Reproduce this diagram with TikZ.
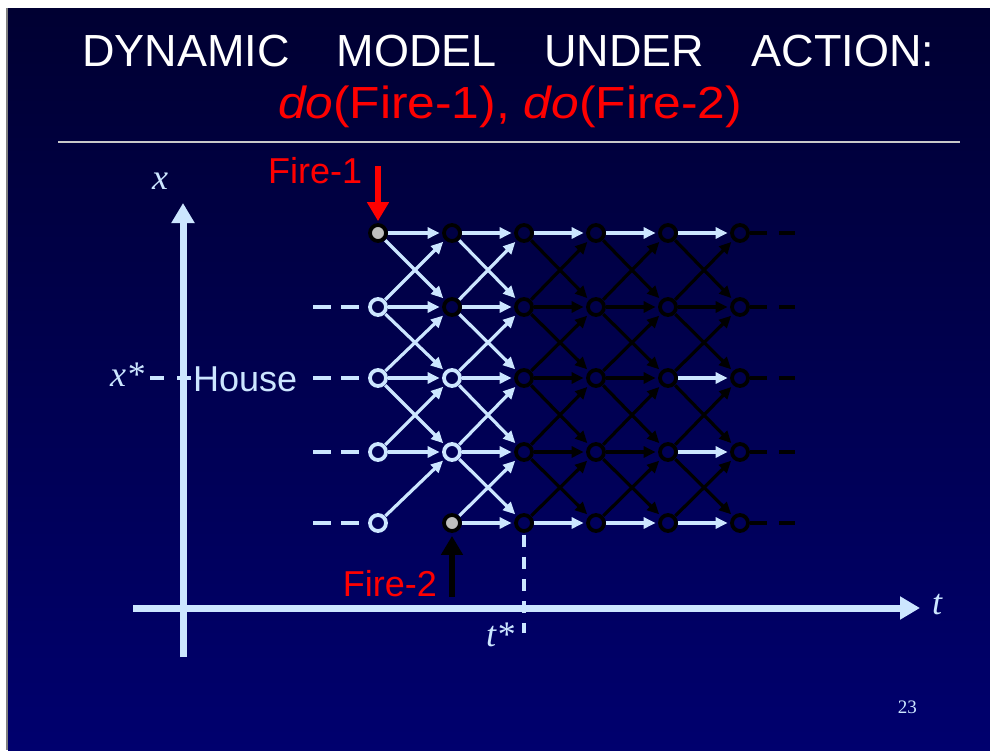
\documentclass[tikz,border=0pt]{standalone}
\usepackage{fontspec}
\setmainfont{Liberation Serif}
\setsansfont{Liberation Sans}
\usepackage{graphicx}
\usetikzlibrary{arrows.meta}
\definecolor{lb}{RGB}{204,230,255}
\definecolor{bgtop}{RGB}{0,0,50}
\definecolor{bgbot}{RGB}{0,0,110}
\definecolor{rulegray}{RGB}{200,200,200}
\definecolor{firegray}{RGB}{190,190,190}
\begin{document}
\begin{tikzpicture}[x=1pt,y=-1pt,
  nd/.style={circle,minimum size=16pt,inner sep=0pt,line width=3.8pt},
  lbn/.style={nd,draw=lb},
  bkn/.style={nd,draw=black},
  gyn/.style={nd,draw=black,fill=firegray},
  arr/.style={line width=3.2pt,-{Triangle[length=12pt,width=11pt]},shorten >=2.5pt,shorten <=0.5pt},
  lbarrow/.style={arr,draw=lb},
  bkarrow/.style={arr,draw=black},
  lbdash/.style={lb,line width=3.5pt,dash pattern=on 18pt off 10pt},
  bkdash/.style={black,line width=3.5pt,dash pattern=on 17pt off 12pt},
  axisline/.style={lb,line width=7pt,-{Triangle[length=20pt,width=22pt]}},
  lbl/.style={inner sep=0pt,anchor=base west},
  sanslbl/.style={lbl,font=\sffamily\fontsize{36}{40}\selectfont},
  mathlbl/.style={lbl,text=lb,font=\itshape\fontsize{36}{40}\selectfont}
]
\useasboundingbox (0,0) rectangle (990,750);
\fill[white] (0,0) rectangle (990,750);
\shade[top color=bgtop,bottom color=bgbot] (8,8) rectangle (990,750);
\draw[gray,line width=1.5pt] (7,8) -- (7,750);

% title
\node[lbl,text=white,font=\sffamily\fontsize{45}{48}\selectfont] (title) at (82,66)
  {\makebox[852pt][s]{DYNAMIC MODEL UNDER ACTION:}};
\node[inner sep=0pt,anchor=base,text=red,font=\sffamily\fontsize{45}{50}\selectfont] (sub) at (510,118)
  {\resizebox{464pt}{\height}{\textit{do}(Fire-1), \textit{do}(Fire-2)}};
\coordinate (rl) at (58,142);
\coordinate (rr) at (960,142);
\draw[rulegray,line width=2pt] (rl) -- (rr);

% axes
\coordinate (vb) at (183,657);
\coordinate (vt) at (183,203);
\coordinate (hl) at (133,608);
\coordinate (hr) at (920,608);
\draw[axisline] (vb) -- (vt);
\draw[axisline] (hl) -- (hr);
\node[mathlbl] (xl) at (152,189) {x};
\node[mathlbl] (tl) at (932,614) {t};
\node[mathlbl] (ts) at (486,646) {t*};
\node[mathlbl] (xs) at (110,386) {x*};
\node[inner sep=0pt,anchor=base east,text=lb,font=\fontsize{19}{22}\selectfont] (pg) at (917,713) {23};

% grid nodes
\node[gyn] (n00) at (378,233) {};
\node[lbn] (n01) at (378,307) {};
\node[lbn] (n02) at (378,378) {};
\node[lbn] (n03) at (378,452) {};
\node[lbn] (n04) at (378,523) {};
\node[bkn] (n10) at (452,233) {};
\node[bkn] (n11) at (452,307) {};
\node[lbn] (n12) at (452,378) {};
\node[lbn] (n13) at (452,452) {};
\node[gyn] (n14) at (452,523) {};
\foreach \c/\x in {2/524,3/596,4/668,5/740}
  \foreach \r/\y in {0/233,1/307,2/378,3/452,4/523}
    \node[bkn] (n\c\r) at (\x,\y) {};

% column 0 -> 1
\foreach \a/\b in {00/10,00/11,01/10,01/11,01/12,02/11,02/12,02/13,03/12,03/13,04/13}
  \draw[lbarrow] (n\a) -- (n\b);
% column 1 -> 2
\foreach \a/\b in {10/20,10/21,11/20,11/21,11/22,12/21,12/22,12/23,13/22,13/23,13/24,14/23,14/24}
  \draw[lbarrow] (n\a) -- (n\b);
% diagonals, columns 2..5
\foreach \c/\d in {2/3,3/4,4/5}{
  \foreach \r/\s in {0/1,1/2,2/3,3/4}{
    \draw[bkarrow] (n\c\r) -- (n\d\s);
    \draw[bkarrow] (n\c\s) -- (n\d\r);
  }
}
% horizontals, columns 2..5
\foreach \a/\b in {20/30,24/34,30/40,34/44,40/50,42/52,43/53,44/54}
  \draw[lbarrow] (n\a) -- (n\b);
\foreach \a/\b in {21/31,22/32,23/33,31/41,32/42,33/43,41/51}
  \draw[bkarrow] (n\a) -- (n\b);

% dashes left and right
\foreach \r/\y in {1/307,2/378,3/452,4/523}{
  \coordinate (dl\r) at (313,\y);
  \draw[lbdash,shorten >=9pt] (dl\r) -- (n0\r);
}
\foreach \r/\y in {0/233,1/307,2/378,3/452,4/523}{
  \coordinate (dr\r) at (795,\y);
  \draw[bkdash] (n5\r) -- (dr\r);
}
\coordinate (xd0) at (150,378);
\coordinate (xd1) at (191,378);
\draw[lb,line width=3.5pt,dash pattern=on 14pt off 13pt] (xd0) -- (xd1);
\node[sanslbl,text=lb] (house) at (193,391) {House};

% t* dashed line
\coordinate (tsb) at (524,633);
\draw[lb,line width=3.5pt,dash pattern=on 12pt off 10pt,shorten <=2pt] (n24) -- (tsb);

% interventions
\node[sanslbl,text=red] (fire1) at (268,183) {Fire-1};
\coordinate (f1a) at (378,166);
\draw[red,line width=6.5pt,-{Triangle[length=19pt,width=21pt]},shorten >=2pt] (f1a) -- (n00);
\node[sanslbl,text=red,anchor=base east] (fire2) at (437,596) {Fire-2};
\coordinate (f2a) at (452,597);
\draw[black,line width=6.5pt,-{Triangle[length=19pt,width=21pt]},shorten >=3pt] (f2a) -- (n14);
\end{tikzpicture}
\end{document}
